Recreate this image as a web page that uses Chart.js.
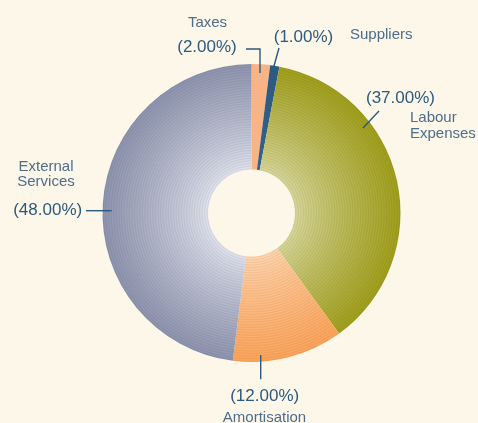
<!DOCTYPE html>
<html>
<head>
<meta charset="utf-8">
<script src="https://cdn.jsdelivr.net/npm/chart.js@4/dist/chart.umd.min.js"></script>
<style>
  html, body { margin: 0; padding: 0; background: #fdf7ea; }
  #wrap { width: 478px; height: 423px; position: relative; }
</style>
</head>
<body>
<div id="wrap"><canvas id="c" width="478" height="423"></canvas></div>
<script>
// ---- data ----
const categories = ['Taxes', 'Suppliers', 'Labour Expenses', 'Amortisation', 'External Services'];
const shares = [2, 1, 37, 12, 48];
const nameLines = [['Taxes'], ['Suppliers'], ['Labour', 'Expenses'], ['Amortisation'], ['External', 'Services']];

// ---- styles ----
const innerColors = ['#fbc299', '#35638a', '#d2d196', '#fccfa8', '#dadce6'];
const outerColors = ['#f8b485', '#2b5a80', '#9c9b1b', '#f6a058', '#8a90aa'];
const pctColor = '#2c5a7e';
const nameColor = '#4d6d8c';
const bg = '#fdf7ea';

function hex(c) { return [1, 3, 5].map(i => parseInt(c.substr(i, 2), 16)); }
function ringGradient(ctx, cx, cy, r, rIn, a, b) {
  const A = hex(a), B = hex(b);
  const g = ctx.createRadialGradient(cx, cy, 0, cx, cy, r);
  const half = 1.3;
  const n = Math.floor(r / half);
  for (let i = 0; i <= n; i++) {
    const rr = i * half;
    let t = Math.max(0, Math.min(1, (rr - rIn) / (r - rIn)));
    t = Math.pow(t, 0.85);
    const k = (i % 2) ? 1.035 : 0.965;
    const col = A.map((v, j) => Math.max(0, Math.min(255, Math.round((v + (B[j] - v) * t) * k))));
    g.addColorStop(Math.min(1, rr / r), 'rgb(' + col.join(',') + ')');
  }
  g.addColorStop(1, b);
  return g;
}

// label layout: offsets from arc centre
const layout = [
  { pct: [-44.5, -161, 'center'], names: [[-44, -186, 'center']], leader: [[-5.5, -164], [8.5, -164], [8.5, -140]] },
  { pct: [52, -171.5, 'center'], names: [[98.5, -174, 'left']], leader: [[27.5, -165], [20.5, -140]] },
  { pct: [114.5, -110.3, 'left'], names: [[158.5, -90.6, 'left'], [158.5, -75, 'left']], leader: [[127.5, -102], [111.5, -85]] },
  { pct: [13.2, 187.7, 'center'], names: [[13, 209.4, 'center']], leader: [[9.2, 142], [9.2, 166.3]] },
  { pct: [-203.8, 2, 'center'], names: [[-205.5, -42.3, 'center'], [-205.5, -27.3, 'center']], leader: [[-165.5, -2.3], [-139.8, -2.3]] }
];

const labelPlugin = {
  id: 'labels',
  beforeDraw(chart) {
    const c = chart.ctx;
    c.save();
    c.fillStyle = bg;
    c.fillRect(0, 0, chart.width, chart.height);
    c.restore();
  },
  afterDraw(chart) {
    const c = chart.ctx;
    const meta = chart.getDatasetMeta(0);
    const arc = meta.data[0];
    const cx = arc.x, cy = arc.y;
    c.save();
    layout.forEach((L, i) => {
      c.strokeStyle = pctColor;
      c.lineWidth = 1.4;
      c.beginPath();
      L.leader.forEach((p, j) => {
        if (j === 0) c.moveTo(cx + p[0], cy + p[1]); else c.lineTo(cx + p[0], cy + p[1]);
      });
      c.stroke();
      c.textBaseline = 'alphabetic';
      c.fillStyle = pctColor;
      c.font = '17px "Liberation Sans", Arial, sans-serif';
      c.textAlign = L.pct[2];
      c.fillText('(' + shares[i].toFixed(2) + '%)', cx + L.pct[0], cy + L.pct[1]);
      c.fillStyle = nameColor;
      c.font = '15px "Liberation Sans", Arial, sans-serif';
      L.names.forEach((n, j) => {
        c.textAlign = n[2];
        c.fillText(nameLines[i][j], cx + n[0], cy + n[1]);
      });
    });
    c.restore();
  }
};

new Chart(document.getElementById('c'), {
  type: 'doughnut',
  data: {
    labels: categories,
    datasets: [{
      data: shares,
      borderWidth: 0,
      backgroundColor: (ctx) => {
        const chart = ctx.chart;
        const i = ctx.dataIndex;
        const el = chart.getDatasetMeta(0).data[0];
        if (!chart.chartArea || !el || !el.outerRadius) return outerColors[i];
        return ringGradient(chart.ctx, el.x, el.y, el.outerRadius, el.innerRadius, innerColors[i], outerColors[i]);
      }
    }]
  },
  options: {
    responsive: false,
    animation: false,
    cutout: '29.2%',
    rotation: 0,
    layout: { padding: { top: 64, bottom: 61, left: 102, right: 77 } },
    plugins: { legend: { display: false }, tooltip: { enabled: false } }
  },
  plugins: [labelPlugin]
});
</script>
</body>
</html>
